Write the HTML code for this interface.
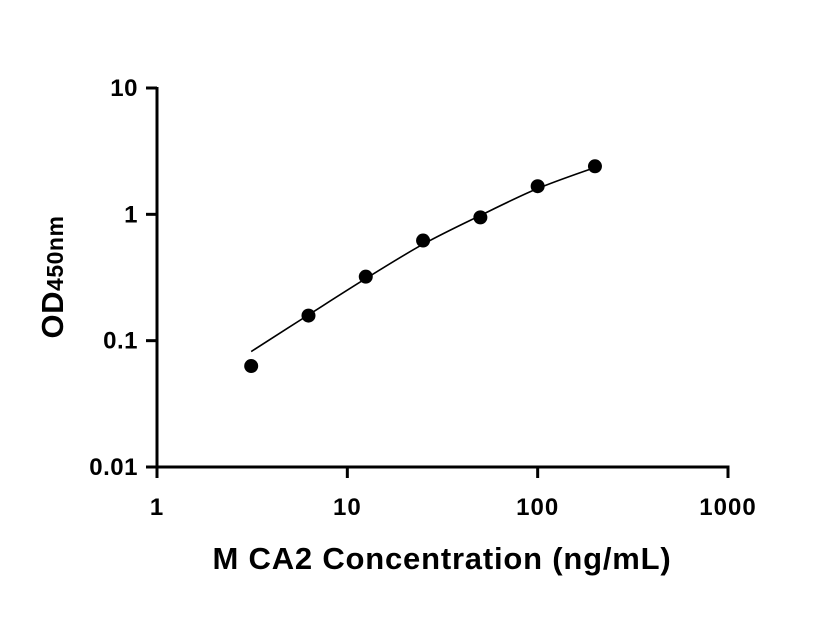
<!DOCTYPE html>
<html><head><meta charset="utf-8"><style>
html,body{margin:0;padding:0;background:#fff;}
svg{display:block;font-family:"Liberation Sans",Arial,sans-serif;font-weight:bold;}
</style></head><body>
<svg id="chart" width="816" height="640" viewBox="0 0 816 640">
<g id="axes"></g>
<g id="curve"></g>
<g id="points"></g>
<text x="442" y="569" text-anchor="middle" font-size="31" letter-spacing="0.8">M CA2 Concentration (ng/mL)</text>
<text transform="translate(63,277) rotate(-90)" text-anchor="middle" font-size="31" letter-spacing="0.5">OD<tspan font-size="23">450nm</tspan></text>
</svg>
<script>
const concentrations = [3.125, 6.25, 12.5, 25, 50, 100, 200];
const odValues = [0.063, 0.158, 0.321, 0.62, 0.946, 1.67, 2.40];
const fitValues = [0.082, 0.16, 0.31, 0.58, 0.98, 1.6, 2.35];
const xTicks = [1, 10, 100, 1000];
const xTickLabels = ["1", "10", "100", "1000"];
const yTicks = [0.01, 0.1, 1, 10];
const yTickLabels = ["0.01", "0.1", "1", "10"];

const NS = "http://www.w3.org/2000/svg";
const X0 = 157, X1 = 728, Y0 = 467, Y1 = 88;
function xs(v){ return X0 + (Math.log10(v) - 0) / 3 * (X1 - X0); }
function ys(v){ return Y0 - (Math.log10(v) + 2) / 3 * (Y0 - Y1); }
function mk(tag, attrs, parent){ const e = document.createElementNS(NS, tag); for (const k in attrs) e.setAttribute(k, attrs[k]); parent.appendChild(e); return e; }

const axes = document.getElementById('axes');
let l = mk('line', {x1: X0, y1: Y1 - 1, x2: X0, y2: Y0 + 1.5, stroke: '#000', 'stroke-width': 3}, axes);


l = mk('line', {x1: X0 - 1.5, y1: Y0, x2: X1 + 1.5, y2: Y0, stroke: '#000', 'stroke-width': 3}, axes);



xTicks.forEach((t, i) => {
  const x = xs(t);
  const tk = mk('line', {x1: x, y1: Y0, x2: x, y2: Y0 + 11, stroke: '#000', 'stroke-width': 3}, axes);
  
  
  const tx = mk('text', {x: x, y: Y0 + 48, 'text-anchor': 'middle', 'font-size': 24, 'letter-spacing': 1}, axes);
  tx.textContent = xTickLabels[i];
  
  
});
yTicks.forEach((t, i) => {
  const y = ys(t);
  const tk = mk('line', {x1: X0 - 11, y1: y, x2: X0, y2: y, stroke: '#000', 'stroke-width': 3}, axes);
  
  
  const tx = mk('text', {x: X0 - 19, y: y + 8, 'text-anchor': 'end', 'font-size': 24, 'letter-spacing': 0.5}, axes);
  tx.textContent = yTickLabels[i];
  
  
});

const pts = concentrations.map((c, i) => [xs(c), ys(fitValues[i])]);
let d = 'M' + pts[0][0] + ',' + pts[0][1];
for (let i = 0; i < pts.length - 1; i++) {
  const p0 = pts[Math.max(0, i - 1)], p1 = pts[i], p2 = pts[i + 1], p3 = pts[Math.min(pts.length - 1, i + 2)];
  const c1 = [p1[0] + (p2[0] - p0[0]) / 6, p1[1] + (p2[1] - p0[1]) / 6];
  const c2 = [p2[0] - (p3[0] - p1[0]) / 6, p2[1] - (p3[1] - p1[1]) / 6];
  d += ' C' + c1 + ' ' + c2 + ' ' + p2;
}
const path = mk('path', {d: d, fill: 'none', stroke: '#000', 'stroke-width': 1.6}, document.getElementById('curve'));



const pg = document.getElementById('points');
concentrations.forEach((c, i) => {
  const p = mk('circle', {cx: xs(c), cy: ys(odValues[i]), r: 7, fill: '#000'}, pg);
  
  
});
</script>
</body></html>
